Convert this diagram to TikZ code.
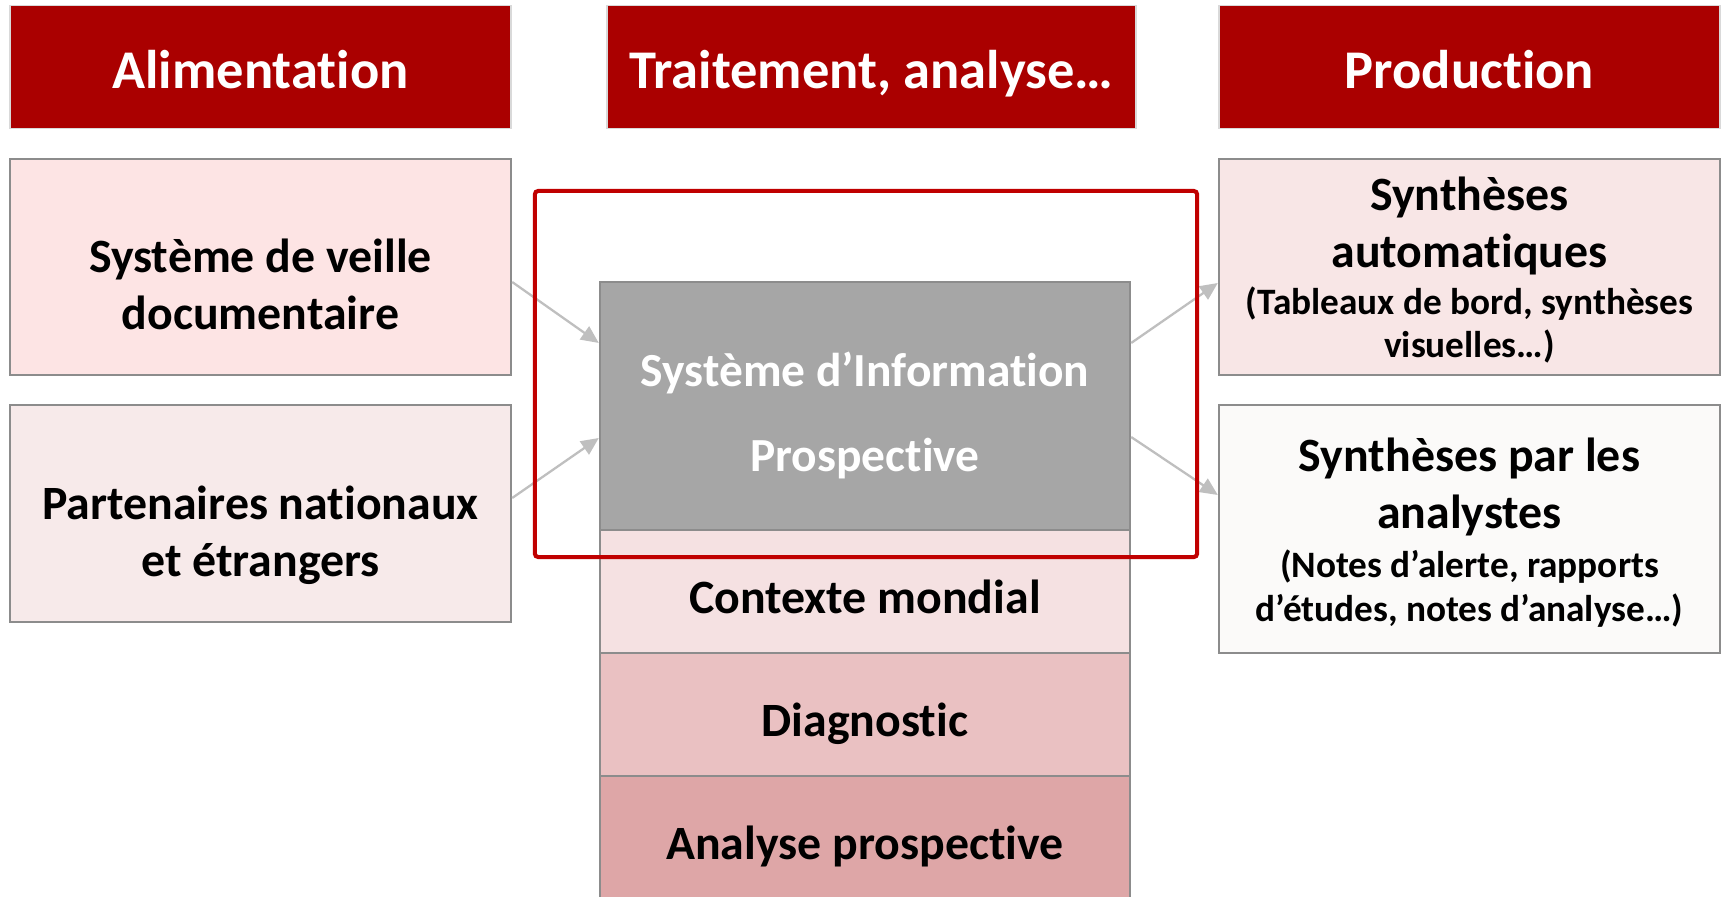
\documentclass[tikz,border=0pt]{standalone}
\usepackage{fontspec}
\setmainfont{Carlito}[RawFeature={-liga}]
\usetikzlibrary{arrows.meta,calc}
\definecolor{hdrred}{HTML}{AA0000}
\definecolor{hdredge}{HTML}{D9D9D9}
\definecolor{boxedge}{HTML}{8C8C8C}
\definecolor{pinkA}{HTML}{FDE4E4}
\definecolor{pinkB}{HTML}{F7EAEA}
\definecolor{pinkC}{HTML}{F8E6E6}
\definecolor{offwhite}{HTML}{FBFAF9}
\definecolor{sipgray}{HTML}{A6A6A6}
\definecolor{ctxpink}{HTML}{F5E1E2}
\definecolor{diagpink}{HTML}{EAC1C2}
\definecolor{anapink}{HTML}{DEA6A7}
\definecolor{frame}{HTML}{C00000}
\definecolor{arrowgray}{HTML}{BFBFBF}
\tikzset{
  hdrbox/.style={draw=hdredge, line width=0.4pt, fill=hdrred, inner sep=0pt, minimum height=1.23cm},
  hdrtext/.style={font=\fontsize{15.5}{18}\selectfont\bfseries, text=white, anchor=base, inner sep=0pt},
  pbox/.style={draw=boxedge, line width=0.6pt, inner sep=0pt, minimum width=5.01cm},
  bigtext/.style={font=\fontsize{13.6}{16.2}\selectfont\bfseries, align=center, inner sep=0pt},
  smalltext/.style={font=\fontsize{10.6}{12.5}\selectfont\bfseries, align=center, inner sep=0pt},
  linetext/.style={font=\fontsize{13.6}{16.2}\selectfont\bfseries, anchor=base, inner sep=0pt},
  flow/.style={draw=arrowgray, line width=0.65pt, -{Triangle[length=5pt,width=4.5pt]}}
}
\begin{document}
\begin{tikzpicture}[x=0.01cm, y=-0.01cm]
\useasboundingbox (0,0) rectangle (1723,897);
\clip (0,0) rectangle (1723,897);
% headers
\node[hdrbox, minimum width=5.01cm] (hA) at (260.5,67) {};
\node[hdrbox, minimum width=5.29cm] (hT) at (871.5,67) {};
\node[hdrbox, minimum width=5.01cm] (hP) at (1469.5,67) {};
\node[hdrtext] (hAt) at (260.5,88) {Alimentation};
\node[hdrtext] (hTt) at (871.5,88) {Traitement, analyse…};
\node[hdrtext] (hPt) at (1469.5,88) {Production};
% left boxes
\node[pbox, fill=pinkA, minimum height=2.16cm] (veille) at (260.5,267) {};
\node[pbox, fill=pinkB, minimum height=2.17cm] (part) at (260.5,513.5) {};
\node[bigtext] (veillet) at (260.5,284.4) {Système de veille\\documentaire};
\node[bigtext] (partt) at (260.5,535.7) {Partenaires nationaux\\et étrangers};
% right boxes
\node[pbox, fill=pinkC, minimum height=2.16cm] (auto) at (1469.5,267) {};
\node[pbox, fill=offwhite, minimum height=2.48cm] (analy) at (1469.5,529) {};
\node[bigtext] (autot) at (1469.5,225.6) {Synthèses\\automatiques};
\node[smalltext] (autos) at (1469.5,325) {(Tableaux de bord, synthèses\\visuelles…)};
\node[bigtext] (analyt) at (1469.5,487) {Synthèses par les\\analystes};
\node[smalltext] (analys) at (1469.5,589) {(Notes d’alerte, rapports\\d’études, notes d’analyse…)};
% central stack
\node[pbox, fill=sipgray, minimum width=5.30cm, minimum height=2.48cm] (sip) at (865,406) {};
\node[pbox, fill=ctxpink, minimum width=5.30cm, minimum height=1.23cm] (ctx) at (865,591.5) {};
\node[pbox, fill=diagpink, minimum width=5.30cm, minimum height=1.23cm] (diag) at (865,714.5) {};
\node[pbox, fill=anapink, minimum width=5.30cm, minimum height=1.24cm] (ana) at (865,838) {};
\node[font=\fontsize{13.5}{24.2}\selectfont\bfseries, align=center, inner sep=0pt, text=white] (sipt) at (865,415.8) {Système d’Information\\Prospective};
\node[linetext] (ctxt) at (865,613) {Contexte mondial};
\node[linetext] (diagt) at (865,736) {Diagnostic};
\node[linetext] (anat) at (865,859) {Analyse prospective};
% connectors
\draw[flow] ([yshift=-0.15cm]veille.east) -- ([yshift=0.63cm]sip.west);
\draw[flow] ([yshift=0.155cm]part.east) -- ([yshift=-0.32cm]sip.west);
\draw[flow] ([yshift=0.63cm]sip.east) -- ([yshift=-0.16cm]auto.west);
\draw[flow] ([yshift=-0.31cm]sip.east) -- ([yshift=0.34cm]analy.west);
% red frame
\node[draw=frame, line width=1.15pt, rounded corners=1pt, inner sep=0pt, minimum width=6.62cm, minimum height=3.66cm] (focus) at (866,374) {};
\end{tikzpicture}
\end{document}
